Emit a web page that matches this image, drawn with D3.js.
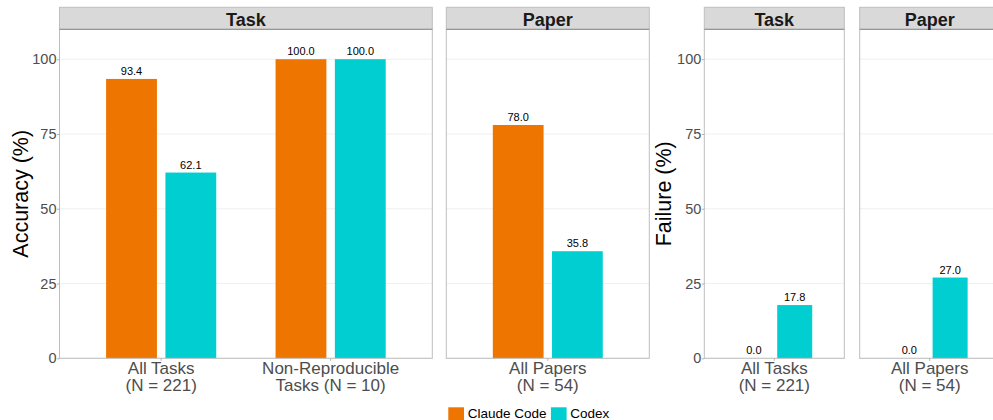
<!DOCTYPE html>
<html>
<head>
<meta charset="utf-8">
<script src="https://cdn.jsdelivr.net/npm/d3@7"></script>
<style>
  body { margin: 0; background: #fff; }
  svg { display: block; font-family: "Liberation Sans", Arial, Helvetica, sans-serif; }
</style>
</head>
<body>
<svg id="chart" width="993" height="420"></svg>
<script>
// ---- data ----
var series = ["Claude Code", "Codex"];
var seriesColors = ["#EE7600", "#00CED1"];
var yTicks = [0, 25, 50, 75, 100];

var accTaskCats = ["All Tasks\n(N = 221)", "Non-Reproducible\nTasks (N = 10)"];
var accTaskClaude = [93.4, 100.0];
var accTaskCodex = [62.1, 100.0];

var accPaperCats = ["All Papers\n(N = 54)"];
var accPaperClaude = [78.0];
var accPaperCodex = [35.8];

var failTaskCats = ["All Tasks\n(N = 221)"];
var failTaskClaude = [0.0];
var failTaskCodex = [17.8];

var failPaperCats = ["All Papers\n(N = 54)"];
var failPaperClaude = [0.0];
var failPaperCodex = [27.0];

// ---- layout ----
var stripTop = 7.3, panelTop = 29.3, panelBottom = 358.3;

var panels = [
  { x0: 59.5, x1: 432.3, strip: "Task", cats: accTaskCats, vals: [accTaskClaude, accTaskCodex], yAxis: true },
  { x0: 446.3, x1: 649.3, strip: "Paper", cats: accPaperCats, vals: [accPaperClaude, accPaperCodex], yAxis: false },
  { x0: 704.3, x1: 844.3, strip: "Task", cats: failTaskCats, vals: [failTaskClaude, failTaskCodex], yAxis: true },
  { x0: 859.7, x1: 999.7, strip: "Paper", cats: failPaperCats, vals: [failPaperClaude, failPaperCodex], yAxis: false }
];

var svg = d3.select("#chart");

var y = d3.scaleLinear().domain([0, 110]).range([panelBottom, panelTop]);

panels.forEach(function(p) {
  var g = svg.append("g");

  var x = d3.scaleBand()
    .domain(p.cats)
    .range([p.x0, p.x1])
    .paddingInner(0)
    .paddingOuter(0.1);

  // dodge: two bars of 0.3 units, centres at +-0.175 units
  var xSub = d3.scaleBand()
    .domain(series)
    .range([0, x.bandwidth()])
    .paddingInner(1 / 7)
    .paddingOuter(0.5);

  g.append("rect")
    .attr("x", p.x0).attr("y", panelTop)
    .attr("width", p.x1 - p.x0).attr("height", panelBottom - panelTop)
    .attr("fill", "#fff");

  g.selectAll(".grid")
    .data(yTicks)
    .enter().append("line")
      .attr("class", "grid")
      .attr("x1", p.x0).attr("x2", p.x1)
      .attr("y1", function(d) { return y(d); })
      .attr("y2", function(d) { return y(d); })
      .attr("stroke", "#EBEBEB")
      .attr("stroke-width", 0.8);

  var rows = [];
  p.cats.forEach(function(c, i) {
    series.forEach(function(s, j) {
      rows.push({ cat: c, series: s, value: p.vals[j][i], color: seriesColors[j] });
    });
  });

  g.selectAll(".bar")
    .data(rows)
    .enter().append("rect")
      .attr("class", "bar")
      .attr("x", function(d) { return x(d.cat) + xSub(d.series); })
      .attr("y", function(d) { return y(d.value); })
      .attr("width", xSub.bandwidth())
      .attr("height", function(d) { return y(0) - y(d.value); })
      .attr("fill", function(d) { return d.color; });

  g.selectAll(".val")
    .data(rows)
    .enter().append("text")
      .attr("class", "val")
      .attr("x", function(d) { return x(d.cat) + xSub(d.series) + xSub.bandwidth() / 2; })
      .attr("y", function(d) { return y(d.value) - 4; })
      .attr("text-anchor", "middle")
      .attr("font-size", "11px")
      .attr("fill", "#000")
      .text(function(d) { return d.value.toFixed(1); });

  // panel border
  g.append("rect")
    .attr("x", p.x0).attr("y", panelTop)
    .attr("width", p.x1 - p.x0).attr("height", panelBottom - panelTop)
    .attr("fill", "none")
    .attr("stroke", "#BEBEBE")
    .attr("stroke-width", 1);

  // strip
  g.append("rect")
    .attr("x", p.x0).attr("y", stripTop)
    .attr("width", p.x1 - p.x0).attr("height", panelTop - stripTop)
    .attr("fill", "#D9D9D9")
    .attr("stroke", "#BEBEBE")
    .attr("stroke-width", 1);
  g.append("line")
    .attr("x1", p.x0).attr("x2", p.x1)
    .attr("y1", panelTop).attr("y2", panelTop)
    .attr("stroke", "#8C8C8C")
    .attr("stroke-width", 1);
  g.append("text")
    .attr("x", (p.x0 + p.x1) / 2)
    .attr("y", 25.5)
    .attr("text-anchor", "middle")
    .attr("font-size", "18px")
    .attr("font-weight", "bold")
    .attr("fill", "#1A1A1A")
    .text(p.strip);

  // x axis, two-line labels
  var xAxis = g.append("g")
    .attr("transform", "translate(0," + panelBottom + ")")
    .call(d3.axisBottom(x).tickSize(2.5).tickPadding(1));
  xAxis.select(".domain").remove();
  xAxis.selectAll(".tick line").attr("stroke", "#B3B3B3");
  xAxis.selectAll(".tick text")
    .attr("fill", "#4D4D4D")
    .attr("font-size", "17px")
    .attr("font-family", null)
    .each(function(d) {
      var t = d3.select(this).text(null).attr("dy", null).attr("y", null);
      d.split("\n").forEach(function(line, i) {
        t.append("tspan").attr("x", 0).attr("y", 16 + i * 17).text(line);
      });
    });

  if (p.yAxis) {
    var yAxis = g.append("g")
      .attr("transform", "translate(" + p.x0 + ",0)")
      .call(d3.axisLeft(y).tickValues(yTicks).tickSize(2.5).tickPadding(0.5));
    yAxis.select(".domain").remove();
    yAxis.selectAll(".tick line").attr("stroke", "#B3B3B3");
    yAxis.selectAll(".tick text")
      .attr("fill", "#4D4D4D")
      .attr("font-size", "14.5px")
      .attr("font-family", null);
  }
});

// axis titles
var midY = (panelTop + panelBottom) / 2;
svg.append("text")
  .attr("transform", "translate(27.5," + midY + ") rotate(-90)")
  .attr("text-anchor", "middle")
  .attr("font-size", "21.5px")
  .attr("fill", "#000")
  .text("Accuracy (%)");
svg.append("text")
  .attr("transform", "translate(670.5," + midY + ") rotate(-90)")
  .attr("text-anchor", "middle")
  .attr("font-size", "21.5px")
  .attr("fill", "#000")
  .text("Failure (%)");

// legend
var legend = svg.append("g").attr("transform", "translate(448.3,407.3)");
var lx = 0;
series.forEach(function(s, i) {
  legend.append("rect")
    .attr("x", lx).attr("y", 0)
    .attr("width", 15.7).attr("height", 15.7)
    .attr("fill", seriesColors[i]);
  var t = legend.append("text")
    .attr("x", lx + 19.4)
    .attr("y", 11)
    .attr("font-size", "13.5px")
    .attr("fill", "#000")
    .text(s);
  lx += 19.4 + t.node().getComputedTextLength() + 4.4;
});
</script>
</body>
</html>
